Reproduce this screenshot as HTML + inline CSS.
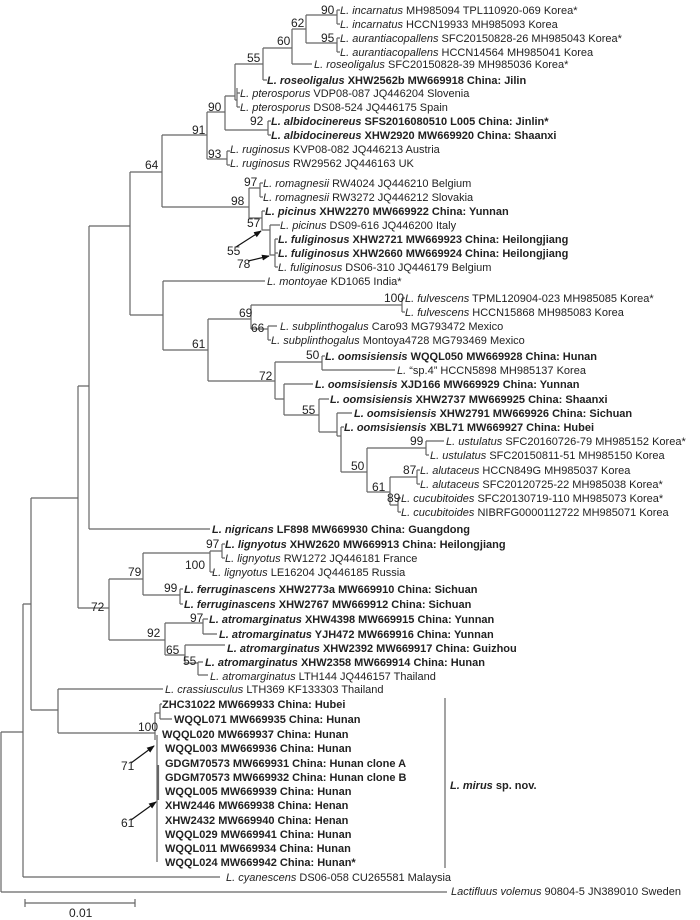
<!DOCTYPE html>
<html><head><meta charset="utf-8"><style>
html,body{margin:0;padding:0;background:#fff}
svg{display:block}
text{font-family:"Liberation Sans",sans-serif;font-size:11px;fill:#222}
.b{font-weight:bold}
.i{font-style:italic}
.n{font-size:12px;fill:#222}
</style></head><body>
<svg width="700" height="920" viewBox="0 0 700 920" xmlns="http://www.w3.org/2000/svg">
<defs><marker id="ar" markerWidth="8" markerHeight="8" refX="7" refY="4" orient="auto" markerUnits="userSpaceOnUse"><path d="M0,1 L8,4 L0,7 z" fill="#111"/></marker></defs>
<g stroke="#666" stroke-width="1.2" fill="none">
<path d="M337,10V24M337,10h3M337,24h3"/>
<path d="M337,38V52M337,38h3M337,52h3"/>
<path d="M306,15V43M306,15h31M306,43h31"/>
<path d="M292,29V64M292,29h14M292,64h20"/>
<path d="M263,48V80M263,48h29M263,80h4"/>
<path d="M235,64V100M235,64h28M235,100h2M237,88V107M237,93h3M237,107h3"/>
<path d="M225,96V130M225,96h10M225,130h43M268,121V135M268,121h3M268,135h3"/>
<path d="M227,151V165M227,151h3M227,165h3"/>
<path d="M207,112V159M207,112h18M207,159h20"/>
<path d="M162,135V207M162,135h45M162,207h87"/>
<path d="M260,183V197M260,183h3M260,197h3"/>
<path d="M249,188V218M249,188h11M249,218h13"/>
<path d="M262,211V230M262,211h3M262,230h8"/>
<path d="M270,225V255M270,225h10M270,255h5"/>
<path d="M275,239V267M275,239h3M275,253h3M275,267h3"/>
<path d="M130,172V315M130,172h32M130,315h33"/>
<path d="M163,281V350M163,281h102M163,350h45"/>
<path d="M208,319V381M208,319h43M208,381h67"/>
<path d="M251,305V329M251,305h151M251,329h17"/>
<path d="M402,298V312M402,298h3M402,312h3"/>
<path d="M268,326V340M268,326h9M268,340h3"/>
<path d="M275,362V399M275,362h47M275,399h9"/>
<path d="M322,356V370M322,356h3M322,370h73"/>
<path d="M284,384V415M284,384h29M284,415h35"/>
<path d="M319,399V432M319,399h10M319,432h18"/>
<path d="M337,413V436M337,413h15M337,436h4"/>
<path d="M341,427V472M341,427h3M341,472h26"/>
<path d="M367,448V492M367,448h59M367,492h23"/>
<path d="M426,441V455M426,441h18M426,455h3"/>
<path d="M390,477V505M390,477h27M390,505h8"/>
<path d="M417,470V484M417,470h3M417,484h3"/>
<path d="M398,498V512M398,498h3M398,512h3"/>
<path d="M89,226V529M89,226h41M89,529h121"/>
<path d="M78,386V608M78,386h11M78,608h31"/>
<path d="M109,579V640M109,579h34M109,640h56"/>
<path d="M143,553V595M143,553h67M143,595h37"/>
<path d="M210,551V572M210,551h12M210,572h3"/>
<path d="M222,544V558M222,544h3M222,558h3"/>
<path d="M180,589V604M180,589h3M180,604h3"/>
<path d="M165,623V655M165,623h38M165,655h20"/>
<path d="M203,619V634M203,619h5M203,634h14"/>
<path d="M185,645V663M185,645h40M185,663h13"/>
<path d="M198,662V675M198,662h5M198,675h10"/>
<path d="M31,498V710M31,498h47M31,710h27"/>
<path d="M58,689V733M58,689h105M58,733h97"/>
<path d="M23,604V877M23,604h8M23,877h197"/>
<path d="M1,732V892M1,732h22M1,892h446"/>
<path d="M160,704V719M160,704h2M160,719h12"/>
<path d="M155,713V740M155,713h5"/>
<path d="M157,735V862"/>
<path d="M158,765V800" stroke-width="2.2"/>
<path d="M445,698V868"/>
<path d="M25,903H135M25,899V907M135,899V907"/>
</g>
<g stroke="#111" stroke-width="1.2">
<line x1="236" y1="247" x2="261" y2="231" marker-end="url(#ar)"/>
<line x1="248" y1="261" x2="269" y2="256" marker-end="url(#ar)"/>
<line x1="131" y1="763" x2="154" y2="746" marker-end="url(#ar)"/>
<line x1="131" y1="820" x2="156" y2="802" marker-end="url(#ar)"/>
</g>
<g>
<text x="321" y="14" class="n">90</text>
<text x="321" y="42" class="n">95</text>
<text x="291" y="27" class="n">62</text>
<text x="277" y="45" class="n">60</text>
<text x="247" y="62" class="n">55</text>
<text x="208" y="111" class="n">90</text>
<text x="250" y="125" class="n">92</text>
<text x="192" y="134" class="n">91</text>
<text x="208" y="158" class="n">93</text>
<text x="145" y="169" class="n">64</text>
<text x="244" y="186" class="n">97</text>
<text x="231" y="205" class="n">98</text>
<text x="247" y="227" class="n">57</text>
<text x="227" y="255" class="n">55</text>
<text x="237" y="268" class="n">78</text>
<text x="384" y="302" class="n">100</text>
<text x="239" y="317" class="n">69</text>
<text x="251" y="332" class="n">66</text>
<text x="192" y="348" class="n">61</text>
<text x="306" y="359" class="n">50</text>
<text x="259" y="380" class="n">72</text>
<text x="302" y="414" class="n">55</text>
<text x="410" y="445" class="n">99</text>
<text x="351" y="470" class="n">50</text>
<text x="403" y="474" class="n">87</text>
<text x="372" y="491" class="n">61</text>
<text x="387" y="502" class="n">89</text>
<text x="206" y="548" class="n">97</text>
<text x="185" y="569" class="n">100</text>
<text x="128" y="576" class="n">79</text>
<text x="164" y="592" class="n">99</text>
<text x="91" y="611" class="n">72</text>
<text x="190" y="622" class="n">97</text>
<text x="147" y="637" class="n">92</text>
<text x="166" y="654" class="n">65</text>
<text x="183" y="665" class="n">55</text>
<text x="138" y="731" class="n">100</text>
<text x="121" y="770" class="n">71</text>
<text x="121" y="827" class="n">61</text>
<text x="69" y="917" class="n">0.01</text>
</g>
<text x="340" y="14"><tspan class="i">L. incarnatus</tspan> MH985094 TPL110920-069 Korea*</text>
<text x="340" y="28"><tspan class="i">L. incarnatus</tspan> HCCN19933 MH985093 Korea</text>
<text x="340" y="42"><tspan class="i">L. aurantiacopallens</tspan> SFC20150828-26 MH985043 Korea*</text>
<text x="340" y="56"><tspan class="i">L. aurantiacopallens</tspan> HCCN14564 MH985041 Korea</text>
<text x="314" y="68"><tspan class="i">L. roseoligalus</tspan> SFC20150828-39 MH985036 Korea*</text>
<text x="267" y="84" class="b"><tspan class="i">L. roseoligalus</tspan> XHW2562b MW669918 China: Jilin</text>
<text x="240" y="97"><tspan class="i">L. pterosporus</tspan> VDP08-087 JQ446204 Slovenia</text>
<text x="240" y="111"><tspan class="i">L. pterosporus</tspan> DS08-524 JQ446175 Spain</text>
<text x="271" y="125" class="b"><tspan class="i">L. albidocinereus</tspan> SFS2016080510 L005 China: Jinlin*</text>
<text x="271" y="139" class="b"><tspan class="i">L. albidocinereus</tspan> XHW2920 MW669920 China: Shaanxi</text>
<text x="230" y="153"><tspan class="i">L. ruginosus</tspan> KVP08-082 JQ446213 Austria</text>
<text x="230" y="167"><tspan class="i">L. ruginosus</tspan> RW29562 JQ446163 UK</text>
<text x="263" y="187"><tspan class="i">L. romagnesii</tspan> RW4024 JQ446210 Belgium</text>
<text x="263" y="201"><tspan class="i">L. romagnesii</tspan> RW3272 JQ446212 Slovakia</text>
<text x="265" y="215" class="b"><tspan class="i">L. picinus</tspan> XHW2270 MW669922 China: Yunnan</text>
<text x="280" y="229"><tspan class="i">L. picinus</tspan> DS09-616 JQ446200 Italy</text>
<text x="278" y="243" class="b"><tspan class="i">L. fuliginosus</tspan> XHW2721 MW669923 China: Heilongjiang</text>
<text x="278" y="257" class="b"><tspan class="i">L. fuliginosus</tspan> XHW2660 MW669924 China: Heilongjiang</text>
<text x="278" y="271"><tspan class="i">L. fuliginosus</tspan> DS06-310 JQ446179 Belgium</text>
<text x="267" y="285"><tspan class="i">L. montoyae</tspan> KD1065 India*</text>
<text x="405" y="302"><tspan class="i">L. fulvescens</tspan> TPML120904-023 MH985085 Korea*</text>
<text x="405" y="316"><tspan class="i">L. fulvescens</tspan> HCCN15868 MH985083 Korea</text>
<text x="280" y="330"><tspan class="i">L. subplinthogalus</tspan> Caro93 MG793472 Mexico</text>
<text x="271" y="344"><tspan class="i">L. subplinthogalus</tspan> Montoya4728 MG793469 Mexico</text>
<text x="325" y="360" class="b"><tspan class="i">L. oomsisiensis</tspan> WQQL050 MW669928 China: Hunan</text>
<text x="397" y="374"><tspan class="i">L.</tspan> “sp.4” HCCN5898 MH985137 Korea</text>
<text x="315" y="388" class="b"><tspan class="i">L. oomsisiensis</tspan> XJD166 MW669929 China: Yunnan</text>
<text x="330" y="403" class="b"><tspan class="i">L. oomsisiensis</tspan> XHW2737 MW669925 China: Shaanxi</text>
<text x="354" y="417" class="b"><tspan class="i">L. oomsisiensis</tspan> XHW2791 MW669926 China: Sichuan</text>
<text x="344" y="431" class="b"><tspan class="i">L. oomsisiensis</tspan> XBL71 MW669927 China: Hubei</text>
<text x="446" y="445"><tspan class="i">L. ustulatus</tspan> SFC20160726-79 MH985152 Korea*</text>
<text x="430" y="459"><tspan class="i">L. ustulatus</tspan> SFC20150811-51 MH985150 Korea</text>
<text x="420" y="474"><tspan class="i">L. alutaceus</tspan> HCCN849G MH985037 Korea</text>
<text x="420" y="488"><tspan class="i">L. alutaceus</tspan> SFC20120725-22 MH985038 Korea*</text>
<text x="401" y="502"><tspan class="i">L. cucubitoides</tspan> SFC20130719-110 MH985073 Korea*</text>
<text x="401" y="516"><tspan class="i">L. cucubitoides</tspan> NIBRFG0000112722 MH985071 Korea</text>
<text x="212" y="533" class="b"><tspan class="i">L. nigricans</tspan> LF898 MW669930 China: Guangdong</text>
<text x="225" y="548" class="b"><tspan class="i">L. lignyotus</tspan> XHW2620 MW669913 China: Heilongjiang</text>
<text x="225" y="562"><tspan class="i">L. lignyotus</tspan> RW1272 JQ446181 France</text>
<text x="212" y="576"><tspan class="i">L. lignyotus</tspan> LE16204 JQ446185 Russia</text>
<text x="184" y="593" class="b"><tspan class="i">L. ferruginascens</tspan> XHW2773a MW669910 China: Sichuan</text>
<text x="184" y="608" class="b"><tspan class="i">L. ferruginascens</tspan> XHW2767 MW669912 China: Sichuan</text>
<text x="209" y="623" class="b"><tspan class="i">L. atromarginatus</tspan> XHW4398 MW669915 China: Yunnan</text>
<text x="219" y="638" class="b"><tspan class="i">L. atromarginatus</tspan> YJH472 MW669916 China: Yunnan</text>
<text x="227" y="652" class="b"><tspan class="i">L. atromarginatus</tspan> XHW2392 MW669917 China: Guizhou</text>
<text x="205" y="666" class="b"><tspan class="i">L. atromarginatus</tspan> XHW2358 MW669914 China: Hunan</text>
<text x="210" y="680"><tspan class="i">L. atromarginatus</tspan> LTH144 JQ446157 Thailand</text>
<text x="165" y="693"><tspan class="i">L. crassiusculus</tspan> LTH369 KF133303 Thailand</text>
<text x="162" y="708" class="b">ZHC31022 MW669933 China: Hubei</text>
<text x="174" y="723" class="b">WQQL071 MW669935 China: Hunan</text>
<text x="162" y="738" class="b">WQQL020 MW669937 China: Hunan</text>
<text x="165" y="752" class="b">WQQL003 MW669936 China: Hunan</text>
<text x="165" y="767" class="b">GDGM70573 MW669931 China: Hunan clone A</text>
<text x="165" y="781" class="b">GDGM70573 MW669932 China: Hunan clone B</text>
<text x="165" y="795" class="b">WQQL005 MW669939 China: Hunan</text>
<text x="165" y="809" class="b">XHW2446 MW669938 China: Henan</text>
<text x="165" y="824" class="b">XHW2432 MW669940 China: Henan</text>
<text x="165" y="838" class="b">WQQL029 MW669941 China: Hunan</text>
<text x="165" y="852" class="b">WQQL011 MW669934 China: Hunan</text>
<text x="165" y="866" class="b">WQQL024 MW669942 China: Hunan*</text>
<text x="450" y="789" class="b"><tspan class="i">L. mirus</tspan> sp. nov.</text>
<text x="226" y="881"><tspan class="i">L. cyanescens</tspan> DS06-058 CU265581 Malaysia</text>
<text x="451" y="895"><tspan class="i">Lactifluus volemus</tspan> 90804-5 JN389010 Sweden</text>
</svg>
</body></html>
